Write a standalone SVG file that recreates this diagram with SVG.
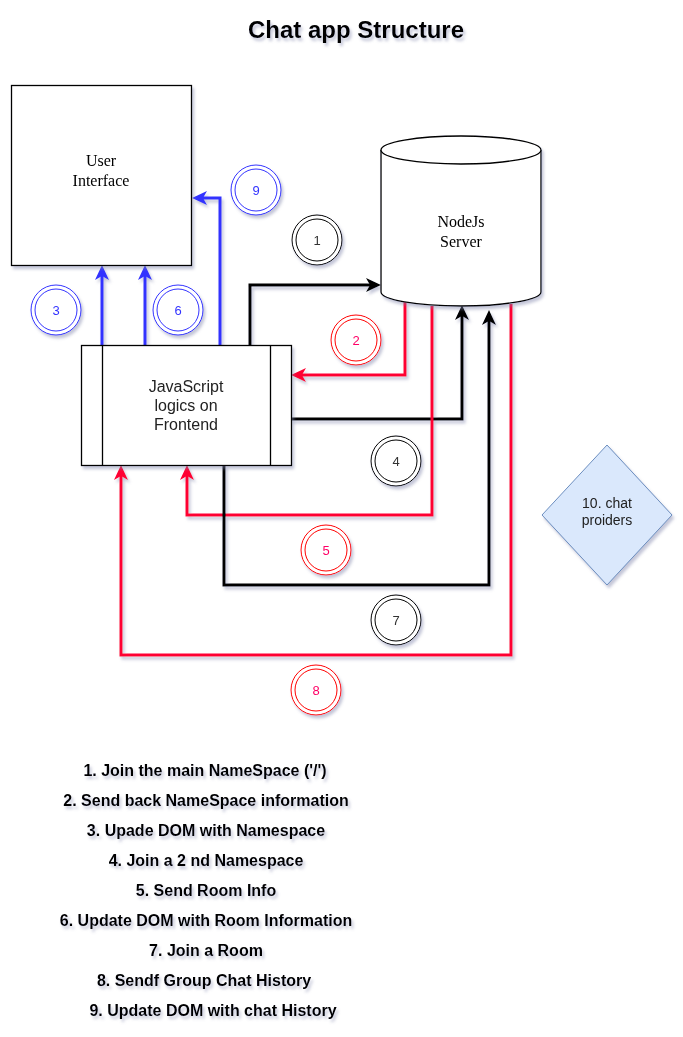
<svg xmlns="http://www.w3.org/2000/svg" width="683" height="1037" viewBox="0 0 683 1037">
<style>
  .shape { fill: #ffffff; stroke: #000000; stroke-width: 1.3; }
  .serif { font-family: "Liberation Serif", "Times New Roman", serif; font-size: 16px; fill: #000000; text-anchor: middle; }
  .sans { font-family: "Liberation Sans", Arial, sans-serif; text-anchor: middle; }
  .label { font-size: 16px; fill: #222222; }
  .num { font-size: 13px; }
  .list { font-family: "Liberation Sans", Arial, sans-serif; font-weight: bold; font-size: 16px; fill: #000000; text-anchor: middle; }
  .title { font-family: "Liberation Sans", Arial, sans-serif; font-weight: bold; font-size: 24px; fill: #000000; text-anchor: middle; }
  .blk { fill: none; stroke: #000000; stroke-width: 3; stroke-linejoin: miter; }
  .red { fill: none; stroke: #FF0033; stroke-width: 3; stroke-linejoin: miter; }
  .blu { fill: none; stroke: #3333FF; stroke-width: 3; stroke-linejoin: miter; }
  .cblk { fill: #ffffff; stroke: #000000; stroke-width: 1; }
  .cred { fill: #ffffff; stroke: #FF0000; stroke-width: 1; }
  .cblu { fill: #ffffff; stroke: #3333FF; stroke-width: 1; }
</style>
<defs>
  <filter id="sh" x="-20%" y="-20%" width="140%" height="140%">
    <feDropShadow dx="2" dy="3" stdDeviation="1.5" flood-color="#7a80a8" flood-opacity="0.45"/>
  </filter>
  <marker id="aBlk" markerUnits="userSpaceOnUse" markerWidth="16" markerHeight="16" viewBox="0 0 16 16" refX="6" refY="8" orient="auto">
    <path d="M0,1 L15,8 L0,15 L4,8 Z" fill="#000000"/>
  </marker>
  <marker id="aRed" markerUnits="userSpaceOnUse" markerWidth="16" markerHeight="16" viewBox="0 0 16 16" refX="6" refY="8" orient="auto">
    <path d="M0,1 L15,8 L0,15 L4,8 Z" fill="#FF0033"/>
  </marker>
  <marker id="aBlu" markerUnits="userSpaceOnUse" markerWidth="16" markerHeight="16" viewBox="0 0 16 16" refX="6" refY="8" orient="auto">
    <path d="M0,1 L15,8 L0,15 L4,8 Z" fill="#3333FF"/>
  </marker>
</defs>
<rect width="683" height="1037" fill="#ffffff"/>

<g id="title" filter="url(#sh)">
  <text class="title" x="356" y="38">Chat app Structure</text>
</g>

<g id="connectors" filter="url(#sh)">
  <path id="e1" class="blk" d="M250,345 L250,285 L372,285" marker-end="url(#aBlk)"/>
  <path id="e2" class="red" d="M405,302 L405,375 L300,375" marker-end="url(#aRed)"/>
  <path id="e3" class="blu" d="M102,345 L102,274" marker-end="url(#aBlu)"/>
  <path id="e4" class="blk" d="M291,419 L462,419 L462,314" marker-end="url(#aBlk)"/>
  <path id="e5" class="red" d="M432,306 L432,515 L187,515 L187,474" marker-end="url(#aRed)"/>
  <path id="e6" class="blu" d="M145,345 L145,274" marker-end="url(#aBlu)"/>
  <path id="e7" class="blk" d="M224,465 L224,585 L489,585 L489,319" marker-end="url(#aBlk)"/>
  <path id="e8" class="red" d="M511,304 L511,655 L121,655 L121,474" marker-end="url(#aRed)"/>
  <path id="e9" class="blu" d="M220,345 L220,198 L201,198" marker-end="url(#aBlu)"/>
</g>

<g id="user-interface" filter="url(#sh)">
  <rect class="shape" x="11.5" y="85.5" width="180" height="180"/>
  <text class="serif" x="101" y="166">User</text>
  <text class="serif" x="101" y="186">Interface</text>
</g>

<g id="nodejs-server" filter="url(#sh)">
  <path class="shape" d="M381,150 A80,14 0 0 1 541,150 L541,292 A80,14 0 0 1 381,292 Z"/>
  <path class="shape" fill="none" d="M381,150 A80,14 0 0 0 541,150"/>
  <text class="serif" x="461" y="227">NodeJs</text>
  <text class="serif" x="461" y="247">Server</text>
</g>

<g id="js-frontend" filter="url(#sh)">
  <rect class="shape" x="81.5" y="345.5" width="210" height="120"/>
  <line x1="102.5" y1="345.5" x2="102.5" y2="465.5" stroke="#000" stroke-width="1.3"/>
  <line x1="270.5" y1="345.5" x2="270.5" y2="465.5" stroke="#000" stroke-width="1.3"/>
  <text class="sans label" x="186" y="392">JavaScript</text>
  <text class="sans label" x="186" y="411">logics on</text>
  <text class="sans label" x="186" y="430">Frontend</text>
</g>

<g id="chat-providers" filter="url(#sh)">
  <polygon points="607,445 672,515 607,585 542,515" fill="#dae8fc" stroke="#6c8ebf" stroke-width="1"/>
  <text class="sans" x="607" y="508" font-size="14" fill="#222222">10. chat</text>
  <text class="sans" x="607" y="525" font-size="14" fill="#222222">proiders</text>
</g>

<g id="step1" filter="url(#sh)">
  <circle class="cblk" cx="317" cy="240" r="25"/><circle class="cblk" cx="317" cy="240" r="21"/>
  <text class="sans num" x="317" y="245" fill="#333333">1</text>
</g>
<g id="step2" filter="url(#sh)">
  <circle class="cred" cx="356" cy="340" r="25"/><circle class="cred" cx="356" cy="340" r="21"/>
  <text class="sans num" x="356" y="345" fill="#FF0066">2</text>
</g>
<g id="step3" filter="url(#sh)">
  <circle class="cblu" cx="56" cy="310" r="25"/><circle class="cblu" cx="56" cy="310" r="21"/>
  <text class="sans num" x="56" y="315" fill="#3333FF">3</text>
</g>
<g id="step4" filter="url(#sh)">
  <circle class="cblk" cx="396" cy="461" r="25"/><circle class="cblk" cx="396" cy="461" r="21"/>
  <text class="sans num" x="396" y="466" fill="#333333">4</text>
</g>
<g id="step5" filter="url(#sh)">
  <circle class="cred" cx="326" cy="550" r="25"/><circle class="cred" cx="326" cy="550" r="21"/>
  <text class="sans num" x="326" y="555" fill="#FF0066">5</text>
</g>
<g id="step6" filter="url(#sh)">
  <circle class="cblu" cx="178" cy="310" r="25"/><circle class="cblu" cx="178" cy="310" r="21"/>
  <text class="sans num" x="178" y="315" fill="#3333FF">6</text>
</g>
<g id="step7" filter="url(#sh)">
  <circle class="cblk" cx="396" cy="620" r="25"/><circle class="cblk" cx="396" cy="620" r="21"/>
  <text class="sans num" x="396" y="625" fill="#333333">7</text>
</g>
<g id="step8" filter="url(#sh)">
  <circle class="cred" cx="316" cy="690" r="25"/><circle class="cred" cx="316" cy="690" r="21"/>
  <text class="sans num" x="316" y="695" fill="#FF0066">8</text>
</g>
<g id="step9" filter="url(#sh)">
  <circle class="cblu" cx="256" cy="190" r="25"/><circle class="cblu" cx="256" cy="190" r="21"/>
  <text class="sans num" x="256" y="195" fill="#3333FF">9</text>
</g>

<g id="legend" filter="url(#sh)">
  <text class="list" x="205" y="776">1. Join the main NameSpace ('/')</text>
  <text class="list" x="206" y="806">2. Send back NameSpace information</text>
  <text class="list" x="206" y="836">3. Upade DOM with Namespace</text>
  <text class="list" x="206" y="866">4. Join a 2 nd Namespace</text>
  <text class="list" x="206" y="896">5. Send Room Info</text>
  <text class="list" x="206" y="926">6. Update DOM with Room Information</text>
  <text class="list" x="206" y="956">7. Join a Room</text>
  <text class="list" x="204" y="986">8. Sendf Group Chat History</text>
  <text class="list" x="213" y="1016">9. Update DOM with chat History</text>
</g>
</svg>
